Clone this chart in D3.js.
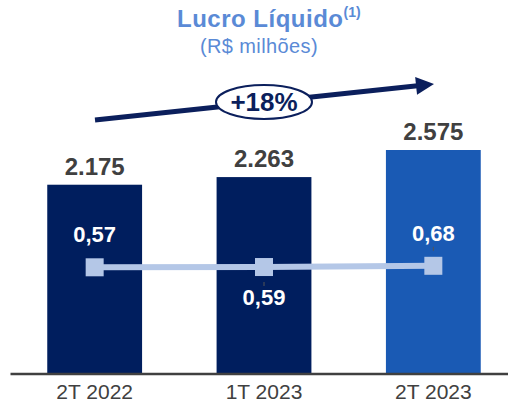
<!DOCTYPE html>
<html>
<head>
<meta charset="utf-8">
<script src="https://cdn.jsdelivr.net/npm/d3@7"></script>
<style>
  body { margin: 0; background: #fff; }
  svg { display: block; font-family: "Liberation Sans", Arial, sans-serif; }
</style>
</head>
<body>
<div id="chart"></div>
<script>
// data
var categories = ["2T 2022", "1T 2023", "2T 2023"];
var lucro = [2175, 2263, 2575];
var lucroLabels = ["2.175", "2.263", "2.575"];
var roe = [0.57, 0.59, 0.68];
var roeLabels = ["0,57", "0,59", "0,68"];
var barColors = ["#001E5E", "#001E5E", "#1A5AB4"];

var width = 508, height = 404;

var svg = d3.select("#chart").append("svg")
    .attr("width", width)
    .attr("height", height);

// scales
var x = d3.scaleBand()
    .domain(categories)
    .range([10, 518])
    .paddingInner(0.44)
    .paddingOuter(0.22);

var y = d3.scaleLinear()
    .domain([0, 2575])
    .range([373.5, 150]);

// secondary scale for the line (nearly flat in the original)
var y2 = d3.scaleLinear()
    .domain([0.57, 0.68])
    .range([267.3, 265.8]);

// title
var title = svg.append("text")
    .attr("x", 177)
    .attr("y", 27)
    .attr("fill", "#5A8AD6")
    .style("font-size", "24px")
    .style("letter-spacing", "0.5px")
    .style("font-weight", "bold");
title.append("tspan").text("Lucro Líquido");
title.append("tspan")
    .attr("dy", -10)
    .style("font-size", "14px")
    .style("letter-spacing", "0px")
    .text("(1)");

svg.append("text")
    .attr("x", 259)
    .attr("y", 53)
    .attr("text-anchor", "middle")
    .attr("fill", "#5A8AD6")
    .style("font-size", "20px")
    .style("letter-spacing", "0.4px")
    .text("(R$ milhões)");

// growth arrow
var navy = "#0B1F5C";
svg.append("line")
    .attr("x1", 95).attr("y1", 120)
    .attr("x2", 420).attr("y2", 85.6)
    .attr("stroke", navy)
    .attr("stroke-width", 5);
svg.append("path")
    .attr("d", "M0,0 L-18,-9 L-18,9 Z")
    .attr("fill", navy)
    .attr("transform", "translate(434,84) rotate(-6)");
svg.append("ellipse")
    .attr("cx", 264).attr("cy", 102)
    .attr("rx", 48).attr("ry", 17)
    .attr("fill", "#fff")
    .attr("stroke", navy)
    .attr("stroke-width", 2);
svg.append("text")
    .attr("x", 264)
    .attr("y", 111)
    .attr("text-anchor", "middle")
    .attr("fill", navy)
    .style("font-size", "26px")
    .style("font-weight", "bold")
    .text("+18%");

// bars
svg.selectAll(".bar")
    .data(lucro)
    .enter().append("rect")
    .attr("class", "bar")
    .attr("x", function(d, i) { return x(categories[i]); })
    .attr("y", function(d) { return y(d); })
    .attr("width", x.bandwidth())
    .attr("height", function(d) { return y(0) - y(d); })
    .attr("fill", function(d, i) { return barColors[i]; });

// bar value labels
svg.selectAll(".barlabel")
    .data(lucro)
    .enter().append("text")
    .attr("class", "barlabel")
    .attr("x", function(d, i) { return x(categories[i]) + x.bandwidth() / 2; })
    .attr("y", function(d) { return y(d) - 10; })
    .attr("text-anchor", "middle")
    .attr("fill", "#404040")
    .style("font-size", "24px")
    .style("font-weight", "bold")
    .text(function(d, i) { return lucroLabels[i]; });

// x axis
var xAxis = svg.append("g")
    .attr("transform", "translate(0," + y(0) + ")")
    .call(d3.axisBottom(x).tickSize(0).tickPadding(11));
xAxis.select(".domain")
    .attr("stroke", "#404040")
    .attr("stroke-width", 2.5);
xAxis.selectAll("text")
    .attr("fill", "#404040")
    .style("font-size", "21px")
    .style("font-family", "Liberation Sans, Arial, sans-serif");

// line
var cx = function(d, i) { return x(categories[i]) + x.bandwidth() / 2; };
var line = d3.line()
    .x(cx)
    .y(function(d) { return y2(d); });

svg.append("path")
    .datum(roe)
    .attr("d", line)
    .attr("fill", "none")
    .attr("stroke", "#B4C7E7")
    .attr("stroke-width", 6);

svg.selectAll(".marker")
    .data(roe)
    .enter().append("rect")
    .attr("class", "marker")
    .attr("x", function(d, i) { return cx(d, i) - 9; })
    .attr("y", function(d) { return y2(d) - 9; })
    .attr("width", 18)
    .attr("height", 18)
    .attr("fill", "#B4C7E7");

// line labels: above for first and last, below for the middle one
var above = [true, false, true];
svg.selectAll(".roelabel")
    .data(roe)
    .enter().append("text")
    .attr("class", "roelabel")
    .attr("x", cx)
    .attr("y", function(d, i) { return above[i] ? y2(d) - 25 : y2(d) + 38; })
    .attr("text-anchor", "middle")
    .attr("fill", "#fff")
    .style("font-size", "22px")
    .style("font-weight", "bold")
    .text(function(d, i) { return roeLabels[i]; });

// small leader ticks
svg.selectAll(".leader")
    .data(roe.slice(1))
    .enter().append("line")
    .attr("class", "leader")
    .attr("x1", function(d, i) { return cx(d, i + 1); })
    .attr("x2", function(d, i) { return cx(d, i + 1); })
    .attr("y1", function(d, i) { return above[i + 1] ? y2(d) - 19 : y2(d) + 15; })
    .attr("y2", function(d, i) { return above[i + 1] ? y2(d) - 15 : y2(d) + 19; })
    .attr("stroke", "#555")
    .attr("stroke-width", 1);
</script>
</body>
</html>
